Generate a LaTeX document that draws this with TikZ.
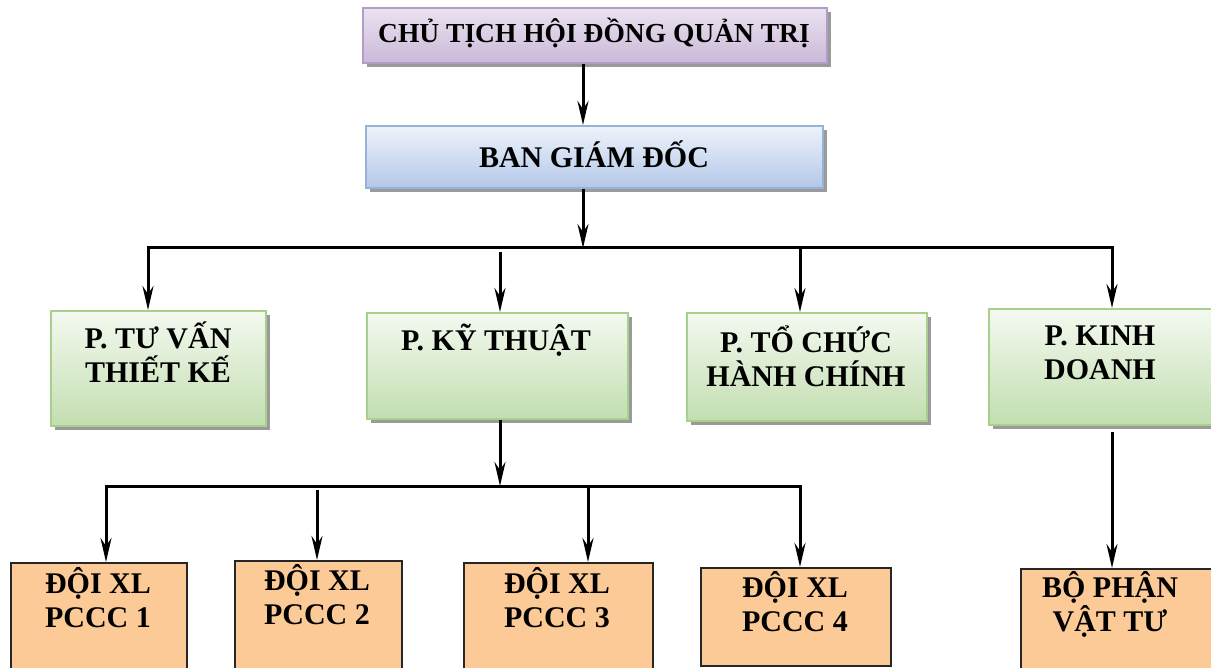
\documentclass[tikz,border=0pt]{standalone}
\usepackage{fontspec}
\setmainfont{Liberation Serif}
\usetikzlibrary{shadows,arrows.meta,calc}
\definecolor{purT}{HTML}{EAE2F0}
\definecolor{purB}{HTML}{CBB9D8}
\definecolor{purD}{HTML}{B29DC6}
\definecolor{bluT}{HTML}{EEF3FB}
\definecolor{bluB}{HTML}{B3C7E8}
\definecolor{bluD}{HTML}{95B3D7}
\definecolor{grnT}{HTML}{F4F9F0}
\definecolor{grnB}{HTML}{C2DEB0}
\definecolor{grnD}{HTML}{A7D08C}
\definecolor{orgF}{HTML}{FCCA96}
\definecolor{shd}{HTML}{9A9A9A}
\tikzset{
 sbox/.style={line width=2pt, inner sep=0pt, anchor=north west,
   drop shadow={shadow xshift=4pt, shadow yshift=-4pt, fill=shd, opacity=1}},
 purbox/.style={sbox, draw=purD, top color=purT, bottom color=purB},
 blubox/.style={sbox, draw=bluD, top color=bluT, bottom color=bluB},
 grnbox/.style={sbox, draw=grnD, top color=grnT, bottom color=grnB},
 obox/.style={draw=black!85, line width=1.8pt, fill=orgF, inner sep=0pt, anchor=north west},
 lbl/.style={font=\bfseries\fontsize{30}{34}\selectfont, align=center, inner sep=0pt},
 conn/.style={line width=3pt},
 tip/.tip={Stealth[length=24pt,width=11pt,inset=8pt]},
 arr/.style={conn, -tip},
 darr/.style={conn, tip-tip},
}
\begin{document}
\begin{tikzpicture}[x=1pt,y={(0pt,-1pt)}]
\useasboundingbox (0,0) rectangle (1211,668);
\clip (0,0) rectangle (1211,668);
% boxes
\node[purbox, minimum width=464pt, minimum height=55pt] (chu) at (362,7) {};
\node[blubox, minimum width=457pt, minimum height=62pt] (ban) at (365,125) {};
\node[grnbox, minimum width=215pt, minimum height=115pt] (tuvan) at (50,310) {};
\node[grnbox, minimum width=261pt, minimum height=106pt] (kythuat) at (366,312) {};
\node[grnbox, minimum width=240pt, minimum height=108pt] (tochuc) at (686,312) {};
\node[grnbox, minimum width=226pt, minimum height=116pt] (kinh) at (988,308) {};
\node[obox, minimum width=176pt, minimum height=115pt] (p1) at (10,562) {};
\node[obox, minimum width=167pt, minimum height=115pt] (p2) at (234,560) {};
\node[obox, minimum width=189pt, minimum height=115pt] (p3) at (463,562) {};
\node[obox, minimum width=190pt, minimum height=98pt] (p4) at (700,567) {};
\node[obox, minimum width=200pt, minimum height=110pt] (vattu) at (1020,568) {};
% texts
\node[lbl, font=\bfseries\fontsize{27.5}{32}\selectfont] (chuT) at (594,33) {CHỦ TỊCH HỘI ĐỒNG QUẢN TRỊ};
\node[lbl] (banT) at (594,154) {BAN GIÁM ĐỐC};
\node[lbl] (tuvanT) at (158,352) {P. TƯ VẤN\\THIẾT KẾ};
\node[lbl] (kythuatT) at (496,340) {P. KỸ THUẬT};
\node[lbl] (tochucT) at (806,356) {P. TỔ CHỨC\\HÀNH CHÍNH};
\node[lbl] (kinhT) at (1100,353) {P. KINH\\DOANH};
\node[lbl] (p1T) at (98,598) {ĐỘI XL\\PCCC 1};
\node[lbl] (p2T) at (317,595) {ĐỘI XL\\PCCC 2};
\node[lbl] (p3T) at (557,598) {ĐỘI XL\\PCCC 3};
\node[lbl] (p4T) at (795,602) {ĐỘI XL\\PCCC 4};
\node[lbl] (vattuT) at (1110,604) {BỘ PHẬN\\VẬT TƯ};
% connector coordinates
\coordinate (a) at (583,0);
\coordinate (b1) at (583,248);
\coordinate (bL) at (148,248);
\coordinate (bR) at (1112,248);
\coordinate (k1) at (500,252);
\coordinate (t1) at (800,248);
\coordinate (q0) at (500,486);
\coordinate (qL) at (106,486);
\coordinate (qR) at (800,486);
\coordinate (q2) at (317,490);
\coordinate (q3) at (588,488);
\coordinate (v) at (1112,0);
% connectors
\draw[arr] (chu.south -| a) -- (ban.north -| a);
\draw[arr] (ban.south -| b1) -- (b1);
\draw[darr] (tuvan.north -| bL) -- (bL) -- (bR) -- (kinh.north -| bR);
\draw[arr] (k1) -- (kythuat.north -| k1);
\draw[arr] (t1) -- (tochuc.north -| t1);
\draw[arr] (kythuat.south -| q0) -- (q0);
\draw[darr] (p1.north -| qL) -- (qL) -- (qR) -- (p4.north -| qR);
\draw[arr] (q2) -- (p2.north -| q2);
\draw[arr] (q3) -- (p3.north -| q3);
\draw[arr] ([yshift=-6pt]kinh.south -| v) -- (vattu.north -| v);
\end{tikzpicture}
\end{document}
